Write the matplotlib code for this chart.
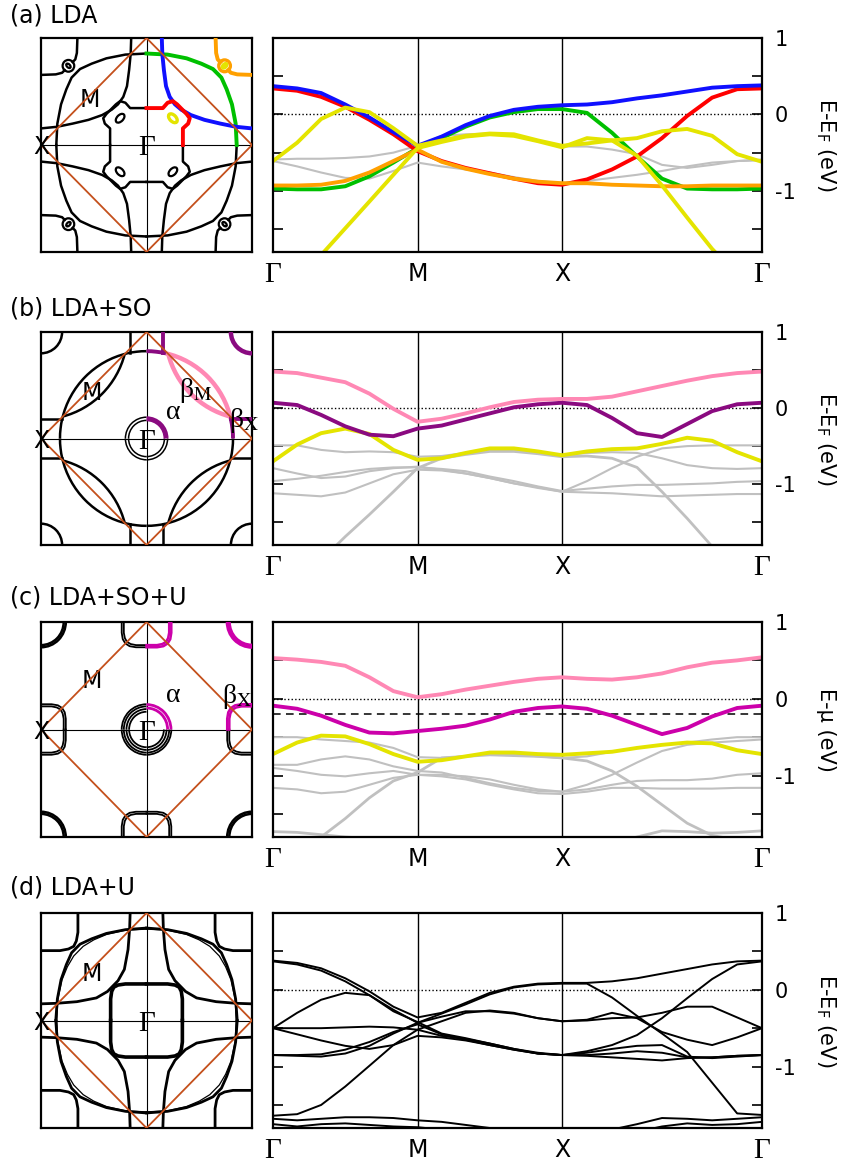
"""
Fermi surfaces (left) and band structures along Γ-M-X-Γ (right)
for LDA, LDA+SO, LDA+SO+U and LDA+U.
"""
import matplotlib
matplotlib.use("Agg")
import matplotlib.pyplot as plt
from matplotlib.patches import Arc, Ellipse
import numpy as np

plt.rcParams['font.family'] = ['DejaVu Sans']
plt.rcParams['mathtext.fontset'] = 'dejavusans'

SERIF = 'Liberation Serif'

BLUE = '#1010ff'
RED = '#ff0000'
GREEN = '#00c000'
ORANGE = '#ffa000'
YELLOW = '#e4e400'
GRAY = '#c0c0c0'
PINK = '#ff88b4'
PURPLE = '#8a0a80'
MAGENTA = '#cc00aa'
DIAMOND = '#c4501c'

# ---------------- band structure data ----------------
K_TICKS = [0.0, 1.0, 2.0, 3.384]
K_LABELS = ['Γ', 'M', 'X', 'Γ']
K = [0.0, 0.167, 0.333, 0.5, 0.667, 0.833, 1.0,
     1.167, 1.333, 1.5, 1.667, 1.833, 2.0,
     2.173, 2.346, 2.519, 2.692, 2.866, 3.039, 3.212, 3.384]

# (a) LDA
A_GRAY1 = [-0.59, -0.58, -0.58, -0.57, -0.55, -0.50, -0.41, -0.28, -0.26, -0.25, -0.27, -0.35, -0.42,
           -0.42, -0.46, -0.52, -0.66, -0.70, -0.66, -0.61, -0.59]
A_GRAY2 = [-0.61, -0.68, -0.76, -0.83, -0.84, -0.74, -0.63, -0.68, -0.72, -0.76, -0.82, -0.87, -0.90,
           -0.87, -0.83, -0.79, -0.74, -0.68, -0.63, -0.61, -0.60]
A_GREEN = [-0.97, -0.98, -0.98, -0.94, -0.81, -0.63, -0.44, -0.31, -0.16, -0.04, 0.03, 0.07, 0.07,
           0.02, -0.24, -0.55, -0.84, -0.97, -0.98, -0.98, -0.97]
A_RED = [0.34, 0.31, 0.23, 0.10, -0.07, -0.26, -0.48, -0.61, -0.70, -0.77, -0.84, -0.90, -0.92,
         -0.85, -0.72, -0.55, -0.31, -0.02, 0.22, 0.33, 0.34]
A_BLUE = [0.37, 0.34, 0.28, 0.13, -0.04, -0.23, -0.41, -0.29, -0.14, -0.02, 0.06, 0.10, 0.12,
          0.13, 0.16, 0.21, 0.25, 0.30, 0.35, 0.37, 0.38]
A_ORANGE = [-0.93, -0.93, -0.92, -0.87, -0.76, -0.61, -0.46, -0.62, -0.71, -0.78, -0.84, -0.88, -0.90,
            -0.90, -0.92, -0.93, -0.94, -0.94, -0.93, -0.93, -0.93]
A_YEL1 = [-0.61, -0.37, -0.06, 0.09, 0.03, -0.18, -0.41, -0.34, -0.28, -0.25, -0.26, -0.34, -0.41,
          -0.38, -0.34, -0.31, -0.22, -0.19, -0.28, -0.52, -0.62]
A_YEL2 = [-2.50, -2.19, -1.84, -1.49, -1.14, -0.79, -0.44, -0.36, -0.29, -0.26, -0.28, -0.35, -0.43,
          -0.31, -0.34, -0.54, -0.93, -1.35, -1.76, -2.10, -2.40]

# (b) LDA+SO
B_GRAY1 = [-0.49, -0.49, -0.55, -0.58, -0.57, -0.58, -0.64, -0.63, -0.59, -0.56, -0.56, -0.59, -0.62,
           -0.59, -0.58, -0.59, -0.66, -0.75, -0.79, -0.80, -0.79]
B_GRAY2 = [-0.79, -0.86, -0.92, -0.90, -0.83, -0.79, -0.77, -0.81, -0.86, -0.92, -0.99, -1.05, -1.10,
           -0.96, -0.79, -0.64, -0.53, -0.50, -0.49, -0.49, -0.49]
B_GRAY3 = [-0.96, -0.93, -0.89, -0.84, -0.80, -0.78, -0.78, -0.80, -0.83, -0.90, -0.96, -1.03, -1.09,
           -1.06, -1.03, -1.01, -1.01, -1.00, -0.99, -0.97, -0.96]
B_GRAY4 = [-1.12, -1.14, -1.16, -1.11, -0.99, -0.87, -0.81, -0.82, -0.86, -0.92, -0.99, -1.04, -1.10,
           -1.11, -1.12, -1.14, -1.16, -1.15, -1.14, -1.13, -1.13]
B_GRAY5 = [-2.60, -2.30, -2.00, -1.69, -1.40, -1.10, -0.79, -0.66, -0.61, -0.57, -0.57, -0.60, -0.64,
           -0.63, -0.66, -0.78, -1.10, -1.45, -1.82, -2.10, -2.40]
B_YELLOW = [-0.70, -0.48, -0.33, -0.27, -0.34, -0.55, -0.68, -0.66, -0.59, -0.53, -0.53, -0.57, -0.62,
            -0.57, -0.54, -0.53, -0.47, -0.39, -0.43, -0.58, -0.70]
B_PURPLE = [0.07, 0.04, -0.09, -0.24, -0.35, -0.37, -0.27, -0.23, -0.15, -0.07, 0.01, 0.05, 0.07,
            0.04, -0.13, -0.33, -0.38, -0.21, -0.04, 0.05, 0.07]
B_PINK = [0.48, 0.46, 0.40, 0.34, 0.19, -0.01, -0.18, -0.14, -0.07, 0.01, 0.08, 0.11, 0.12,
          0.12, 0.15, 0.22, 0.29, 0.36, 0.42, 0.46, 0.48]

# (c) LDA+SO+U
C_GRAY1 = [-0.50, -0.50, -0.53, -0.55, -0.57, -0.64, -0.76, -0.77, -0.75, -0.71, -0.72, -0.75, -0.77,
           -0.75, -0.69, -0.64, -0.60, -0.57, -0.53, -0.50, -0.50]
C_GRAY2 = [-0.86, -0.86, -0.79, -0.75, -0.79, -0.88, -0.94, -0.96, -1.03, -1.10, -1.16, -1.20, -1.21,
           -1.12, -0.99, -0.83, -0.68, -0.60, -0.57, -0.55, -0.53]
C_GRAY3 = [-0.90, -0.94, -0.99, -1.01, -0.97, -0.94, -0.99, -1.01, -1.05, -1.12, -1.18, -1.23, -1.24,
           -1.21, -1.16, -1.16, -1.17, -1.17, -1.17, -1.16, -1.16]
C_GRAY4 = [-1.16, -1.18, -1.23, -1.21, -1.12, -1.03, -0.99, -0.99, -1.01, -1.05, -1.12, -1.18, -1.21,
           -1.18, -1.12, -1.07, -1.06, -1.06, -1.04, -0.99, -0.97]
C_GRAY5 = [-2.20, -2.00, -1.80, -1.56, -1.29, -1.07, -0.96, -0.77, -0.75, -0.73, -0.74, -0.75, -0.77,
           -0.81, -0.94, -1.14, -1.38, -1.62, -1.78, -1.84, -1.90]
C_GRAY6 = [-1.73, -1.74, -1.77, -1.80, -1.82, -1.84, -1.86, -1.90, -1.90, -1.90, -1.90, -1.90, -1.90,
           -1.90, -1.88, -1.80, -1.72, -1.73, -1.75, -1.74, -1.72]
C_YELLOW = [-0.72, -0.57, -0.48, -0.49, -0.59, -0.72, -0.82, -0.80, -0.75, -0.70, -0.70, -0.72, -0.73,
            -0.71, -0.69, -0.64, -0.60, -0.57, -0.58, -0.67, -0.72]
C_MAGENTA = [-0.09, -0.13, -0.22, -0.34, -0.44, -0.45, -0.42, -0.39, -0.35, -0.27, -0.17, -0.12, -0.10,
             -0.13, -0.22, -0.34, -0.46, -0.38, -0.23, -0.12, -0.09]
C_PINK = [0.53, 0.51, 0.48, 0.43, 0.28, 0.10, 0.02, 0.06, 0.12, 0.17, 0.22, 0.26, 0.28,
          0.26, 0.25, 0.28, 0.33, 0.41, 0.47, 0.50, 0.54]
C_MU = -0.2

# (d) LDA+U
D_BANDS = [
    [0.38, 0.35, 0.28, 0.15, -0.02, -0.22, -0.36, -0.30, -0.17, -0.04, 0.04, 0.08, 0.09,
     0.09, 0.11, 0.15, 0.21, 0.27, 0.33, 0.37, 0.38],
    [0.37, 0.33, 0.25, 0.11, -0.07, -0.28, -0.42, -0.57, -0.63, -0.70, -0.77, -0.83, -0.85,
     -0.80, -0.72, -0.59, -0.37, -0.11, 0.14, 0.33, 0.37],
    [-0.85, -0.86, -0.87, -0.83, -0.73, -0.57, -0.43, -0.31, -0.19, -0.06, 0.03, 0.07, 0.08,
     0.08, -0.10, -0.34, -0.57, -0.81, -1.21, -1.61, -1.63],
    [-0.85, -0.85, -0.84, -0.78, -0.68, -0.55, -0.45, -0.58, -0.65, -0.72, -0.78, -0.83, -0.85,
     -0.85, -0.83, -0.80, -0.82, -0.88, -0.88, -0.86, -0.85],
    [-0.50, -0.30, -0.13, -0.04, -0.07, -0.26, -0.43, -0.35, -0.28, -0.28, -0.31, -0.37, -0.41,
     -0.40, -0.37, -0.36, -0.30, -0.22, -0.22, -0.36, -0.50],
    [-1.64, -1.62, -1.50, -1.26, -0.99, -0.72, -0.52, -0.41, -0.30, -0.27, -0.30, -0.37, -0.41,
     -0.39, -0.30, -0.37, -0.55, -0.65, -0.72, -0.62, -0.50],
    [-0.50, -0.50, -0.50, -0.49, -0.48, -0.49, -0.52, -0.60, -0.64, -0.70, -0.77, -0.82, -0.85,
     -0.82, -0.77, -0.73, -0.72, -0.87, -0.89, -0.87, -0.85],
    [-0.50, -0.58, -0.66, -0.73, -0.77, -0.72, -0.60, -0.62, -0.66, -0.72, -0.78, -0.83, -0.85,
     -0.86, -0.88, -0.90, -0.92, -0.89, -0.88, -0.86, -0.85],
    [-1.68, -1.70, -1.68, -1.66, -1.66, -1.67, -1.70, -1.72, -1.76, -1.80, -1.85, -1.88, -1.90,
     -1.90, -1.82, -1.75, -1.67, -1.68, -1.70, -1.68, -1.66],
    [-1.75, -1.78, -1.75, -1.74, -1.76, -1.78, -1.79, -1.82, -1.86, -1.90, -1.95, -1.95, -1.95,
     -1.95, -1.92, -1.85, -1.78, -1.74, -1.76, -1.75, -1.72],
]

# ---------------- Fermi surface data (first quadrant, k in units of pi/a) ----------------
BZ_DIAMOND_X = [-1, 0, 1, 0, -1]
BZ_DIAMOND_Y = [0, 1, 0, -1, 0]

A_BIG_KX = [0.0, 0.2, 0.38, 0.52, 0.63, 0.71, 0.76, 0.81, 0.845, 0.855]
A_BIG_KY = [0.855, 0.845, 0.81, 0.76, 0.71, 0.63, 0.52, 0.38, 0.2, 0.0]
A_BLUE_KX = [0.145, 0.15, 0.165, 0.185, 0.22, 0.27, 0.33, 0.42, 0.55, 0.7, 0.85, 1.0]
A_BLUE_KY = [1.0, 0.85, 0.7, 0.55, 0.45, 0.38, 0.33, 0.28, 0.235, 0.2, 0.17, 0.155]
A_RED_KX = [0.0, 0.155, 0.2, 0.25, 0.29, 0.38, 0.41, 0.395, 0.345, 0.345]
A_RED_KY = [0.345, 0.345, 0.395, 0.41, 0.38, 0.29, 0.25, 0.2, 0.155, 0.0]
A_ARM_KX = [0.655, 0.66, 0.675, 0.70]
A_ARM_KY = [1.0, 0.86, 0.80, 0.775]
A_POCKET = (0.25, 0.25)
A_CORNER = (0.74, 0.74)

B_BIG_R = 0.82
B_GAMMA_R = [0.17, 0.20]
B_CORNER_R = 0.2
B_XCUT_KX = [0.16, 0.16]
B_XCUT_KY = [0.805, 1.0]
B_YCUT_KX = [0.80, 1.0]
B_YCUT_KY = [0.18, 0.18]

C_GAMMA_R = [0.165, 0.19, 0.215, 0.235]
C_GAMMA_UR_R = [0.20, 0.232]
C_CORNER_R = [0.215, 0.235]
C_XP_OUT_KX = [0.0, 0.1, 0.16, 0.2, 0.225, 0.235, 0.235]
C_XP_OUT_KY = [0.765, 0.765, 0.775, 0.8, 0.84, 0.9, 1.0]
C_XP_IN_KX = [0.0, 0.1, 0.15, 0.185, 0.205, 0.215, 0.215]
C_XP_IN_KY = [0.785, 0.785, 0.795, 0.815, 0.85, 0.9, 1.0]

D_SQ_KX = [0.0, 0.2, 0.27, 0.31, 0.33, 0.34, 0.34]
D_SQ_KY = [0.34, 0.34, 0.33, 0.31, 0.27, 0.2, 0.0]
D_BIG_KX = [0.0, 0.2, 0.38, 0.52, 0.63, 0.71, 0.76, 0.81, 0.845, 0.86]
D_BIG_KY = [0.86, 0.845, 0.81, 0.76, 0.71, 0.63, 0.52, 0.38, 0.2, 0.0]
D_BIG2_KX = [0.0, 0.2, 0.38, 0.5, 0.6, 0.69, 0.75, 0.8, 0.84, 0.85]
D_BIG2_KY = [0.85, 0.84, 0.8, 0.75, 0.69, 0.6, 0.5, 0.38, 0.2, 0.0]
D_BLUE_KX = [0.155, 0.16, 0.175, 0.21, 0.27, 0.37, 0.475, 0.66, 0.85, 1.0]
D_BLUE_KY = [1.0, 0.85, 0.66, 0.475, 0.37, 0.27, 0.21, 0.175, 0.16, 0.155]
D_CORNER_KX = [0.65, 0.65, 0.665, 0.69, 0.74, 0.82, 1.0]
D_CORNER_KY = [1.0, 0.82, 0.74, 0.69, 0.665, 0.65, 0.65]

QUADS = [(1, 1), (-1, 1), (-1, -1), (1, -1)]


def quad_angles(t1, t2, sx, sy):
    if sx > 0 and sy > 0:
        return t1, t2
    if sx < 0 and sy > 0:
        return 180 - t2, 180 - t1
    if sx < 0 and sy < 0:
        return 180 + t1, 180 + t2
    return -t2, -t1


def fs_line(ax, kx, ky, lw=1.8, ur_color=None, ur_lw=2.8):
    """Draw a first-quadrant curve and its mirror images, first quadrant coloured."""
    kx, ky = np.asarray(kx), np.asarray(ky)
    for i, (sx, sy) in enumerate(QUADS):
        if i == 0 and ur_color:
            ax.plot(sx * kx, sy * ky, color=ur_color, lw=ur_lw, zorder=5)
        else:
            ax.plot(sx * kx, sy * ky, color='k', lw=lw, zorder=3)


def fs_arc(ax, cx, cy, r, t1, t2, lw=1.8, ur_color=None, ur_lw=2.8, skip_ur=False):
    for i, (sx, sy) in enumerate(QUADS):
        if i == 0 and skip_ur:
            continue
        a1, a2 = quad_angles(t1, t2, sx, sy)
        coloured = i == 0 and ur_color
        ax.add_patch(Arc((sx * cx, sy * cy), 2 * r, 2 * r, theta1=a1, theta2=a2,
                         color=ur_color if coloured else 'k',
                         lw=ur_lw if coloured else lw, zorder=5 if coloured else 3))


def fs_ellipse(ax, cx, cy, w, h, angle, lw=1.6, ur_color=None, ur_lw=2.4):
    for i, (sx, sy) in enumerate(QUADS):
        coloured = i == 0 and ur_color
        ax.add_patch(Ellipse((sx * cx, sy * cy), w, h, angle=angle if sx * sy > 0 else -angle,
                             fill=False, ec=ur_color if coloured else 'k',
                             lw=ur_lw if coloured else lw, zorder=5 if coloured else 3))


def beta_label(ax, x, y, sub):
    # upright serif beta with roman subscript
    ax.text(x, y, 'β$_\\mathrm{' + sub + '}$', family=SERIF, math_fontfamily='stix',
            fontsize=20, ha='center', va='center', zorder=7, clip_on=False)


def setup_fs(ax):
    ax.set_xlim(-1, 1)
    ax.set_ylim(-1, 1)
    ax.set_xticks([])
    ax.set_yticks([])
    for s in ax.spines.values():
        s.set_linewidth(1.6)
    ax.axhline(0, color='k', lw=0.8, zorder=2)
    ax.axvline(0, color='k', lw=0.8, zorder=2)
    ax.plot(BZ_DIAMOND_X, BZ_DIAMOND_Y, color=DIAMOND, lw=1.3, zorder=6)
    ax.text(0.0, -0.03, 'Γ', family=SERIF, fontsize=21, ha='center', va='center', zorder=7)
    ax.text(-1.0, -0.02, 'X', fontsize=17, ha='center', va='center', zorder=7, clip_on=False)


def fs_a(ax):
    setup_fs(ax)
    fs_line(ax, A_BIG_KX, A_BIG_KY, ur_color=GREEN)
    fs_line(ax, A_BLUE_KX, A_BLUE_KY, ur_color=BLUE)
    fs_line(ax, A_RED_KX, A_RED_KY, ur_color=RED)
    fs_ellipse(ax, *A_POCKET, 0.1, 0.06, -45, ur_color=YELLOW)
    fs_line(ax, A_ARM_KX, A_ARM_KY, ur_color=ORANGE)
    fs_line(ax, A_ARM_KY, A_ARM_KX, ur_color=ORANGE)
    fs_ellipse(ax, *A_CORNER, 0.11, 0.11, 0, ur_color=ORANGE)
    fs_ellipse(ax, *A_CORNER, 0.05, 0.03, 45, ur_color=YELLOW)
    ax.text(-0.54, 0.42, 'M', fontsize=17, ha='center', va='center')


def fs_b(ax):
    setup_fs(ax)
    r = B_BIG_R
    fs_arc(ax, 0, 0, r, 0, 13, ur_color=PURPLE)
    fs_arc(ax, 0, 0, r, 13, 77, ur_color=PINK, ur_lw=3.2)
    fs_arc(ax, 0, 0, r, 77, 90, ur_color=PURPLE)
    fs_arc(ax, 1, 1, r, 194.5, 255.5, ur_color=PINK, ur_lw=3.2)
    fs_arc(ax, 1, 1, B_CORNER_R, 180, 270, ur_color=PURPLE, ur_lw=3.2)
    for rr in B_GAMMA_R:
        fs_arc(ax, 0, 0, rr, 0, 90, lw=1.1, skip_ur=True)
    ax.add_patch(Arc((0, 0), 2 * np.mean(B_GAMMA_R), 2 * np.mean(B_GAMMA_R), theta1=0, theta2=90,
                     color=PURPLE, lw=3.6, zorder=5))
    fs_line(ax, B_XCUT_KX, B_XCUT_KY, ur_color=PURPLE)
    fs_line(ax, B_YCUT_KX, B_YCUT_KY, ur_color=PURPLE)
    ax.text(-0.52, 0.43, 'M', fontsize=17, ha='center', va='center')
    ax.text(0.25, 0.24, 'α', family=SERIF, fontsize=20, ha='center', va='center')
    beta_label(ax, 0.47, 0.45, 'M')
    beta_label(ax, 0.93, 0.17, 'X')


def fs_c(ax):
    setup_fs(ax)
    for rr in C_GAMMA_R:
        fs_arc(ax, 0, 0, rr, 0, 90, lw=1.3, skip_ur=True)
    for rr in C_GAMMA_UR_R:
        ax.add_patch(Arc((0, 0), 2 * rr, 2 * rr, theta1=0, theta2=90, color=MAGENTA, lw=2.0, zorder=5))
    fs_line(ax, C_XP_OUT_KX, C_XP_OUT_KY, lw=1.3, ur_color=MAGENTA, ur_lw=1.8)
    fs_line(ax, C_XP_IN_KX, C_XP_IN_KY, lw=1.3, ur_color=MAGENTA, ur_lw=1.8)
    fs_line(ax, C_XP_OUT_KY, C_XP_OUT_KX, lw=1.3, ur_color=MAGENTA, ur_lw=1.8)
    fs_line(ax, C_XP_IN_KY, C_XP_IN_KX, lw=1.3, ur_color=MAGENTA, ur_lw=1.8)
    for rr in C_CORNER_R:
        fs_arc(ax, 1, 1, rr, 180, 270, lw=1.8, ur_color=MAGENTA, ur_lw=2.2)
    ax.text(-0.52, 0.45, 'M', fontsize=17, ha='center', va='center')
    ax.text(0.25, 0.32, 'α', family=SERIF, fontsize=20, ha='center', va='center')
    beta_label(ax, 0.86, 0.31, 'X')


def fs_d(ax):
    setup_fs(ax)
    fs_line(ax, D_SQ_KX, D_SQ_KY, lw=2.6)
    fs_line(ax, D_BIG_KX, D_BIG_KY, lw=2.0)
    fs_line(ax, D_BIG2_KX, D_BIG2_KY, lw=0.9)
    fs_line(ax, D_BLUE_KX, D_BLUE_KY, lw=2.0)
    fs_line(ax, D_CORNER_KX, D_CORNER_KY, lw=2.0)
    ax.text(-0.52, 0.43, 'M', fontsize=17, ha='center', va='center')


def band_panel(ax, bands, ylabel, mu=None):
    for energies, color, lw in bands:
        ax.plot(K, energies, color=color, lw=lw, solid_joinstyle='round', solid_capstyle='round')
    ax.axhline(0, color='k', lw=1.0, ls=(0, (1, 1.6)), zorder=1)
    if mu is not None:
        ax.axhline(mu, color='k', lw=1.1, ls=(0, (5, 3.5)), zorder=1)
    for k in K_TICKS[1:-1]:
        ax.axvline(k, color='k', lw=1.0, zorder=1)
    ax.set_xlim(K_TICKS[0], K_TICKS[-1])
    ax.set_ylim(-1.8, 1.0)
    ax.set_xticks(K_TICKS)
    ax.set_xticklabels(K_LABELS)
    ax.tick_params(axis='x', length=0, pad=7)
    for lab in ax.get_xticklabels():
        if lab.get_text() == 'Γ':
            lab.set_fontfamily(SERIF)
            lab.set_fontsize(21)
        else:
            lab.set_fontsize(17)
    ax.set_yticks([-1.5, -1.0, -0.5, 0.0, 0.5, 1.0])
    ax.set_yticklabels(['', '-1', '', '0', '', '1'])
    ax.tick_params(axis='y', direction='in', left=True, right=True, labelleft=False,
                   labelright=True, length=7, width=1.2, labelsize=15, pad=9)
    for s in ax.spines.values():
        s.set_linewidth(1.6)
    ax.text(1.131, 0.5, ylabel, rotation=270, fontsize=15, ha='center', va='center',
            transform=ax.transAxes)


def main():
    W, H = 841, 1168
    fig = plt.figure(figsize=(W / 100, H / 100), dpi=100)

    rows = [(38, 252), (332, 545), (622, 837), (913, 1128)]
    titles = ['(a) LDA', '(b) LDA+SO', '(c) LDA+SO+U', '(d) LDA+U']
    title_y = [15, 308, 597, 887]

    fs_funcs = [fs_a, fs_b, fs_c, fs_d]
    band_sets = [
        [(A_GRAY1, GRAY, 1.5), (A_GRAY2, GRAY, 1.5), (A_GREEN, GREEN, 2.8), (A_RED, RED, 2.8),
         (A_BLUE, BLUE, 2.8), (A_ORANGE, ORANGE, 2.8), (A_YEL2, YELLOW, 2.8), (A_YEL1, YELLOW, 2.8)],
        [(B_GRAY1, GRAY, 1.5), (B_GRAY2, GRAY, 1.5), (B_GRAY3, GRAY, 1.5), (B_GRAY4, GRAY, 1.5),
         (B_GRAY5, GRAY, 2.0), (B_YELLOW, YELLOW, 2.8), (B_PURPLE, PURPLE, 2.8), (B_PINK, PINK, 2.8)],
        [(C_GRAY1, GRAY, 1.5), (C_GRAY2, GRAY, 1.5), (C_GRAY3, GRAY, 1.5), (C_GRAY4, GRAY, 1.5),
         (C_GRAY5, GRAY, 2.0), (C_GRAY6, GRAY, 2.0), (C_YELLOW, YELLOW, 2.8), (C_MAGENTA, MAGENTA, 2.8),
         (C_PINK, PINK, 2.8)],
        [(band, 'k', 1.4) for band in D_BANDS],
    ]
    ylabels = [r'E-E$_\mathrm{F}$ (eV)', r'E-E$_\mathrm{F}$ (eV)', 'E-μ (eV)', r'E-E$_\mathrm{F}$ (eV)']
    mus = [None, None, C_MU, None]

    for i, (top, bot) in enumerate(rows):
        b = 1 - bot / H
        h = (bot - top) / H
        ax_fs = fig.add_axes([41 / W, b, 211 / W, h])
        fs_funcs[i](ax_fs)
        ax_b = fig.add_axes([273 / W, b, 489 / W, h])
        band_panel(ax_b, band_sets[i], ylabels[i], mus[i])
        fig.text(10 / W, 1 - title_y[i] / H, titles[i], fontsize=17, ha='left', va='center')

    fig.savefig('out.png', dpi=100)


if __name__ == "__main__":
    main()
